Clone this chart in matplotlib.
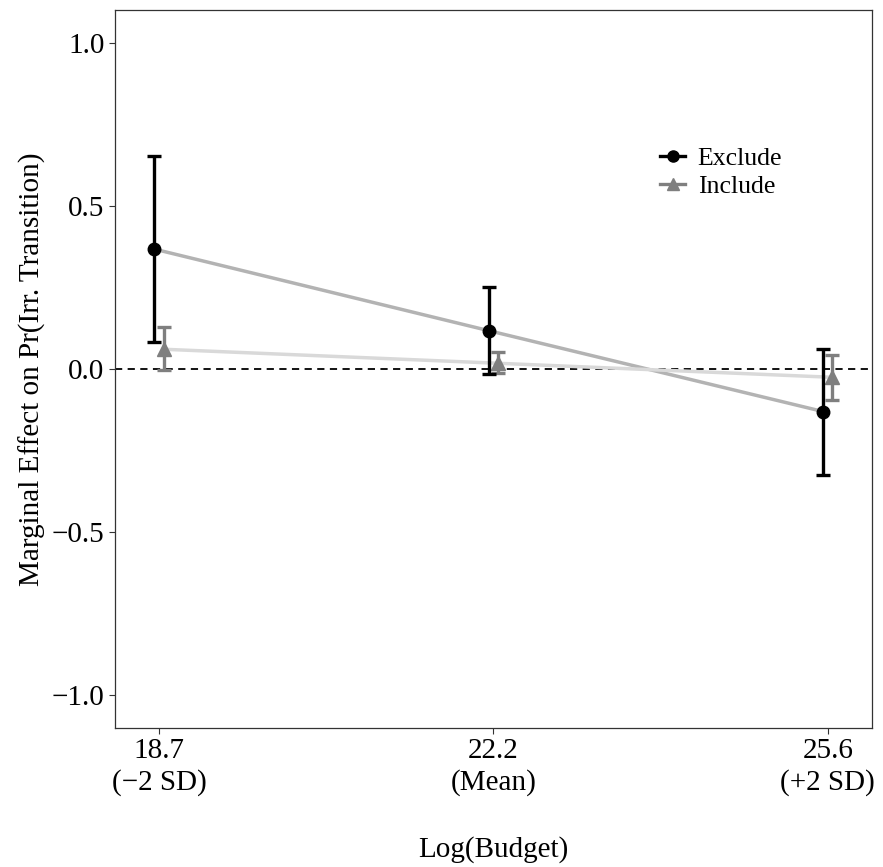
import matplotlib
matplotlib.use("Agg")
import matplotlib.pyplot as plt
from matplotlib.lines import Line2D
import numpy as np

plt.rcParams['font.family'] = ['Liberation Serif', 'DejaVu Serif']
plt.rcParams['mathtext.fontset'] = 'stix'

tick_labels = ["18.7\n(\u22122 SD)", "22.2\n(Mean)", "25.6\n(+2 SD)"]
positions = [1, 2, 3]

exclude_est = [0.367, 0.117, -0.131]
exclude_lo = [0.081, -0.015, -0.327]
exclude_hi = [0.653, 0.250, 0.061]

include_est = [0.060, 0.017, -0.026]
include_lo = [-0.003, -0.013, -0.097]
include_hi = [0.127, 0.051, 0.041]

dodge = 0.014

fig = plt.figure(figsize=(8.83, 8.67), dpi=100)
ax = fig.add_axes([0.130, 0.1607, 0.8575, 0.8278])

xe = np.array(positions) - dodge
xi = np.array(positions) + dodge

ax.axhline(0, color='black', linestyle=(0, (4, 3)), linewidth=1.3, zorder=1)

ax.plot(xe, exclude_est, color='#b3b3b3', linewidth=2.5, zorder=2)
ax.plot(xi, include_est, color='#d9d9d9', linewidth=2.5, zorder=2)

ee = np.array(exclude_est)
ax.errorbar(xe, ee, yerr=[ee - np.array(exclude_lo), np.array(exclude_hi) - ee],
            fmt='o', color='black', ecolor='black', elinewidth=2.4, capsize=5,
            capthick=2.4, markersize=9, zorder=4)
ie = np.array(include_est)
ax.errorbar(xi, ie, yerr=[ie - np.array(include_lo), np.array(include_hi) - ie],
            fmt='^', color='#7f7f7f', ecolor='#7f7f7f', elinewidth=2.4, capsize=5,
            capthick=2.4, markersize=10, zorder=3)

ax.set_xlim(0.868, 3.132)
ax.set_ylim(-1.1, 1.1)
ax.set_xticks(positions)
ax.set_xticklabels(tick_labels, fontsize=21, linespacing=1.25)
ax.set_yticks([-1.0, -0.5, 0.0, 0.5, 1.0])
ax.set_yticklabels(["\u22121.0", "\u22120.5", "0.0", "0.5", "1.0"], fontsize=21)
ax.tick_params(length=4, width=0.8, colors='#333333', labelcolor='black')
for s in ax.spines.values():
    s.set_linewidth(0.9)
    s.set_color('#333333')

ax.set_xlabel("Log(Budget)", fontsize=21, labelpad=29)
ax.set_ylabel("Marginal Effect on Pr(Irr. Transition)", fontsize=21, labelpad=4)

handles = [
    Line2D([0], [0], color='black', marker='o', markersize=8, linewidth=2.4),
    Line2D([0], [0], color='#7f7f7f', marker='^', markersize=9, linewidth=2.4),
]
ax.legend(handles, ["Exclude", "Include"], loc='center left',
          bbox_to_anchor=(0.69, 0.774), frameon=False, fontsize=18.5,
          handlelength=0.95, handletextpad=0.5, labelspacing=0.2)

fig.savefig("out.png", dpi=100)
